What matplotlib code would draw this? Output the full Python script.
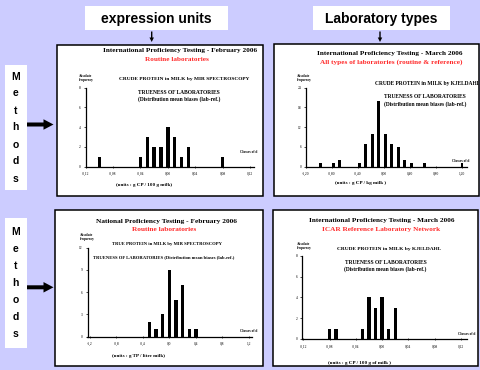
import matplotlib
matplotlib.use("Agg")
import matplotlib.pyplot as plt
from matplotlib.patches import Rectangle, FancyArrow

W, H = 480, 370
BG = "#CCCCFF"
RED = "#FF2B2B"
SERIF = "Liberation Serif"
SANS = "Liberation Sans"

# class centres and number of laboratories
feb_mir_classes = [-0.10, -0.04, -0.03, -0.02, -0.01, 0.00, 0.01, 0.02, 0.03, 0.08]
feb_mir_counts = [1, 1, 3, 2, 2, 4, 3, 1, 2, 1]

mar_kjel_classes = [-0.98, -0.78, -0.68, -0.38, -0.28, -0.18, -0.08,
                    0.02, 0.12, 0.22, 0.32, 0.42, 0.62, 1.20]
mar_kjel_counts = [1, 1, 2, 1, 7, 10, 20, 10, 7, 6, 2, 1, 1, 1]

nat_mir_classes = [-0.3, -0.2, -0.1, 0.0, 0.1, 0.2, 0.3, 0.4]
nat_mir_counts = [2, 1, 3, 9, 5, 7, 1, 1]

icar_kjel_classes = [-0.08, -0.07, -0.03, -0.02, -0.01, 0.00, 0.01, 0.02]
icar_kjel_counts = [1, 1, 1, 4, 3, 4, 1, 3]

small_xticks = [-0.12, -0.08, -0.04, 0.0, 0.04, 0.08, 0.12]
small_xlabels = ["-0,12", "-0,08", "-0,04", "0,00", "0,04", "0,08", "0,12"]
wide_xticks = [-1.2, -0.8, -0.4, 0.0, 0.4, 0.8, 1.2]
wide_xlabels2 = ["-1,20", "-0,80", "-0,40", "0,00", "0,40", "0,80", "1,20"]
wide_xlabels1 = ["-1,2", "-0,8", "-0,4", "0,0", "0,4", "0,8", "1,2"]

yticks_8 = [0, 2, 4, 6, 8]
yticks_24 = [0, 6, 12, 18, 24]
yticks_12 = [0, 3, 6, 9, 12]


fig = plt.figure(figsize=(W / 100, H / 100), dpi=100, facecolor=BG)
bg = fig.add_axes([0, 0, 1, 1], zorder=0)
bg.set_xlim(0, W)
bg.set_ylim(H, 0)
bg.axis("off")


def px_axes(left, top, right, bottom):
    ax = fig.add_axes([left / W, 1 - bottom / H, (right - left) / W,
                       (bottom - top) / H], zorder=2)
    ax.patch.set_alpha(0)
    return ax


def txt(x, y, s, size, color="black", ha="center", clip=None, **kw):
    t = bg.text(x, y, s, fontsize=size, color=color, ha=ha, va="center",
                family=SERIF, fontweight="bold", **kw)
    if clip is not None:
        t.set_clip_path(clip)
        t.set_clip_on(True)
    return t


def panel(box, axbox, xlim, ylim, classes, counts, width,
          xticks, xlabels, yticks, texts):
    x0, y0, x1, y1 = box
    rect = Rectangle((x0, y0), x1 - x0, y1 - y0, facecolor="white",
                     edgecolor="black", lw=1.1, zorder=1)
    bg.add_patch(rect)
    for (x, y, s, size, color, ha) in texts:
        txt(x, y, s, size, color, ha, clip=rect, linespacing=1.1)

    ax = px_axes(*axbox)
    ax.bar(classes, counts, width=width, color="black", zorder=3)
    ax.set_xlim(*xlim)
    ax.set_ylim(*ylim)
    for side in ("top", "right"):
        ax.spines[side].set_visible(False)
    for side in ("left", "bottom"):
        ax.spines[side].set_linewidth(0.9)
    ax.set_xticks(xticks)
    ax.set_xticklabels(xlabels)
    ax.set_yticks(yticks)
    ax.set_yticklabels([str(v) for v in yticks])
    ax.tick_params(axis="x", direction="inout", length=2, width=0.5,
                   labelsize=2.6, pad=3)
    ax.tick_params(axis="y", direction="out", length=1.5, width=0.5,
                   labelsize=2.6, pad=2)
    for lab in ax.get_xticklabels() + ax.get_yticklabels():
        lab.set_family(SERIF)
    return ax


# header boxes
for (x0, x1, label) in [(85, 228, "expression units"), (313, 450, "Laboratory types")]:
    bg.add_patch(Rectangle((x0, 6), x1 - x0, 24, facecolor="white", edgecolor="none"))
    bg.text((x0 + x1) / 2, 18.5, label, fontsize=10, fontweight="bold",
            family=SANS, ha="center", va="center")
for x in (151.7, 380):
    bg.add_patch(FancyArrow(x, 31.5, 0, 10.5, width=1.4, head_width=4.5,
                            head_length=4.5, length_includes_head=True,
                            color="black", lw=0))

# "Methods" side labels
for (top, bottom, first, arrow_y) in [(65, 190, 76.5, 124.5), (217.5, 347.5, 231.7, 287.3)]:
    bg.add_patch(Rectangle((5, top), 21.7, bottom - top, facecolor="white", edgecolor="none"))
    for i, ch in enumerate("Methods"):
        bg.text(15.8, first + i * 17.0, ch, fontsize=7.5, fontweight="bold",
                family=SANS, ha="center", va="center")
    bg.add_patch(FancyArrow(27, arrow_y, 26.5, 0, width=4, head_width=10.5,
                            head_length=10, length_includes_head=True,
                            color="black", lw=0))

# panel 1
panel((56.7, 44.7, 263, 195.7), (85.7, 87.7, 254, 166.7),
      (-0.12, 0.1258), (0, 8), feb_mir_classes, feb_mir_counts, 0.005,
      small_xticks, small_xlabels, yticks_8,
      [(180, 50.7, "International Proficiency Testing - February 2006", 5.2, "black", "center"),
       (176.7, 59.3, "Routine laboratories", 5.2, RED, "center"),
       (79, 77.7, "Absolute\nfrequency", 2.5, "black", "left"),
       (184.3, 79, "CRUDE PROTEIN in MILK by MIR SPECTROSCOPY", 3.9, "black", "center"),
       (178.7, 92, "TRUENESS OF LABORATORIES", 4.0, "black", "center"),
       (178.7, 99.3, "(Distribution mean biases (lab-ref.)", 4.0, "black", "center"),
       (240, 152, "Classes of d", 2.5, "black", "left"),
       (144, 185, "(units : g CP / 100 g milk)", 3.7, "black", "center")])

# panel 2
panel((274, 44.3, 478.5, 196), (306, 87.7, 466.7, 166.7),
      (-1.2, 1.272), (0, 24), mar_kjel_classes, mar_kjel_counts, 0.041,
      wide_xticks, wide_xlabels2, yticks_24,
      [(390, 53.3, "International Proficiency Testing - March 2006", 5.2, "black", "center"),
       (391, 62.3, "All types of laboratories (routine & reference)", 5.2, RED, "center"),
       (297, 78.3, "Absolute\nfrequency", 2.5, "black", "left"),
       (375, 84, "CRUDE PROTEIN in MILK by KJELDAHL", 4.0, "black", "left"),
       (425, 96.7, "TRUENESS OF LABORATORIES", 4.0, "black", "center"),
       (425, 104, "(Distribution mean biases (lab-ref.)", 4.0, "black", "center"),
       (452, 160.7, "Classes of d", 2.5, "black", "left"),
       (361, 182.7, "(units : g CP / kg milk )", 3.7, "black", "center")])

# panel 3
panel((55.3, 210, 263, 366), (87.5, 247.7, 252.3, 336.7),
      (-1.235, 1.25), (0, 12), nat_mir_classes, nat_mir_counts, 0.05,
      wide_xticks, wide_xlabels1, yticks_12,
      [(167, 221.7, "National Proficiency Testing - February 2006", 5.3, "black", "center"),
       (164, 229.3, "Routine laboratories", 5.3, RED, "center"),
       (80, 237, "Absolute\nfrequency", 2.5, "black", "left"),
       (166.7, 244, "TRUE PROTEIN in MILK by MIR SPECTROSCOPY", 3.35, "black", "center"),
       (164, 256.7, "TRUENESS OF LABORATORIES (Distribution mean biases (lab-ref.)", 3.3, "black", "center"),
       (240, 330.7, "Classes of d", 2.5, "black", "left"),
       (139, 356, "(units : g TP / litre milk)", 3.7, "black", "center")])

# panel 4
panel((273, 210, 478, 366), (302.3, 255.7, 466.7, 339),
      (-0.1215, 0.129), (0, 8), icar_kjel_classes, icar_kjel_counts, 0.005,
      small_xticks, small_xlabels, yticks_8,
      [(381.7, 220.7, "International Proficiency Testing - March 2006", 5.2, "black", "center"),
       (381, 230, "ICAR Reference Laboratory Network", 5.2, RED, "center"),
       (297, 246, "Absolute\nfrequency", 2.5, "black", "left"),
       (389, 249.3, "CRUDE PROTEIN in MILK by KJELDAHL", 3.9, "black", "center"),
       (386, 262.3, "TRUENESS OF LABORATORIES", 4.0, "black", "center"),
       (385, 268.7, "(Distribution mean biases (lab-ref.)", 4.0, "black", "center"),
       (458, 334, "Classes of d", 2.5, "black", "left"),
       (360, 363, "(units : g CP / 100 g of milk )", 3.7, "black", "center")])

fig.savefig("out.png", dpi=100, facecolor=BG)
